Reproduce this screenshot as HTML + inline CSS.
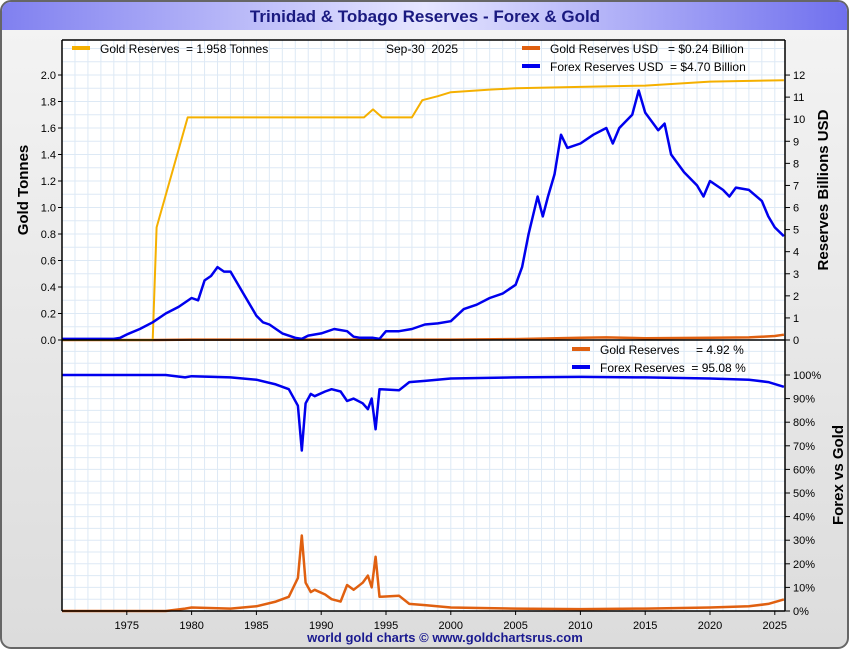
<!DOCTYPE html>
<html><head><meta charset="utf-8"><style>
body{margin:0;width:850px;height:650px;overflow:hidden;background:#fff;font-family:"Liberation Sans",sans-serif}
text{white-space:pre}
</style></head><body>
<svg id="c" width="850" height="650" xmlns="http://www.w3.org/2000/svg">
<defs>
<linearGradient id="bg" x1="0" y1="0" x2="0" y2="1"><stop offset="0" stop-color="#f4f4f4"/><stop offset="1" stop-color="#dcdcdc"/></linearGradient>
<linearGradient id="tb" x1="0" y1="0" x2="1" y2="0"><stop offset="0" stop-color="#8080f0"/><stop offset="0.5" stop-color="#e6e6ff"/><stop offset="1" stop-color="#7070ee"/></linearGradient>
</defs>
<rect x="1" y="1" width="847" height="647" rx="10" fill="url(#bg)" stroke="#666" stroke-width="2"/>
<path d="M2,30 L2,12 Q2,2 12,2 L838,2 Q847,2 847,12 L847,30 Z" fill="url(#tb)"/>
<text x="425" y="22" text-anchor="middle" font-size="17" font-weight="bold" fill="#1a1a80">Trinidad &amp; Tobago Reserves - Forex &amp; Gold</text>
<rect x="62" y="40" width="723" height="571" fill="#fff"/>
<g id="grid"></g>
<g id="marks"></g>
<g id="axes"></g>
<text transform="translate(28,190) rotate(-90)" text-anchor="middle" font-size="15" font-weight="bold" fill="#000">Gold Tonnes</text>
<text transform="translate(828,190) rotate(-90)" text-anchor="middle" font-size="15" font-weight="bold" fill="#000">Reserves Billions USD</text>
<text transform="translate(843,475) rotate(-90)" text-anchor="middle" font-size="15" font-weight="bold" fill="#000">Forex vs Gold</text>
<g font-size="12" fill="#000">
<rect x="72" y="46" width="18" height="4" fill="#f5b000"/>
<text x="100" y="53">Gold Reserves  = 1.958 Tonnes</text>
<text x="386" y="53">Sep-30  2025</text>
<rect x="522" y="46" width="18" height="4" fill="#e06010"/>
<text x="550" y="53">Gold Reserves USD   = $0.24 Billion</text>
<rect x="522" y="64" width="18" height="4" fill="#0000ee"/>
<text x="550" y="71">Forex Reserves USD  = $4.70 Billion</text>
<rect x="572" y="347" width="18" height="4" fill="#e06010"/>
<text x="600" y="354">Gold Reserves     = 4.92 %</text>
<rect x="572" y="365" width="18" height="4" fill="#0000ee"/>
<text x="600" y="372">Forex Reserves  = 95.08 %</text>
</g>
<text x="445" y="642" text-anchor="middle" font-size="13" font-weight="bold" fill="#1a1a90">world gold charts © www.goldchartsrus.com</text>
</svg>
<script>
const goldYears=[1970,1977.0,1977.3,1979.7,1993.3,1994.0,1994.7,1997.0,1997.8,1999,2000,2003,2005,2010,2015,2020,2025.7];
const goldTonnes=[0,0,0.85,1.68,1.68,1.74,1.68,1.68,1.81,1.84,1.87,1.89,1.90,1.91,1.92,1.95,1.96];
const forexYears=[1970,1974,1974.5,1975,1976,1977,1978,1979,1980,1980.5,1981,1981.5,1982,1982.5,1983,1984,1985,1985.5,1986,1987,1988,1988.5,1989,1990,1991,1992,1992.5,1993,1994,1994.5,1995,1996,1997,1998,1999,2000,2001,2002,2003,2004,2005,2005.5,2006,2006.7,2007.1,2007.5,2008,2008.5,2009,2010,2011,2012,2012.5,2013,2014,2014.5,2015,2016,2016.5,2017,2018,2019,2019.5,2020,2021,2021.5,2022,2023,2024,2024.5,2025,2025.7];
const forexUSD=[0.05,0.05,0.1,0.25,0.5,0.8,1.2,1.5,1.9,1.8,2.7,2.9,3.3,3.1,3.1,2.1,1.1,0.8,0.7,0.3,0.1,0.05,0.2,0.3,0.5,0.4,0.15,0.1,0.1,0.05,0.4,0.4,0.5,0.7,0.75,0.85,1.4,1.6,1.9,2.1,2.5,3.3,4.8,6.5,5.6,6.5,7.5,9.3,8.7,8.9,9.3,9.6,8.9,9.6,10.2,11.3,10.3,9.5,9.8,8.4,7.6,7.0,6.5,7.2,6.8,6.5,6.9,6.8,6.3,5.6,5.1,4.7];
const goldUSDYears=[1970,1977,1980,1985,1990,1995,2000,2005,2010,2012,2015,2020,2023,2025,2025.7];
const goldUSD=[0,0,0.02,0.02,0.02,0.02,0.02,0.04,0.1,0.12,0.08,0.1,0.12,0.18,0.24];
const pctYears=[1970,1978,1979.5,1980,1983,1985,1986.5,1987.5,1988.2,1988.5,1988.8,1989.2,1989.5,1990.3,1990.8,1991.5,1992,1992.5,1993.2,1993.6,1993.9,1994.2,1994.5,1996,1996.8,1998,2000,2005,2010,2015,2020,2023,2024.5,2025.7];
const forexPct=[100,100,99,99.5,99,98,96,94,87,68,88,92,91,93,94,93,89,90,88,85.5,90,77,94,93.5,97,97.5,98.5,99,99.2,99,98.5,98,97,95];
const goldPct=[0,0,1,1.5,1,2,4,6,14,32,12,8,9,7,5,4,11,9,12,15,10,23,6,6.5,3,2.5,1.5,1,0.8,1,1.5,2,3,4.9];
const xTicks=[1975,1980,1985,1990,1995,2000,2005,2010,2015,2020,2025];
const leftTicks=[0,0.2,0.4,0.6,0.8,1.0,1.2,1.4,1.6,1.8,2.0];
const rightTicks=[0,1,2,3,4,5,6,7,8,9,10,11,12];
const pctTicks=[0,10,20,30,40,50,60,70,80,90,100];

const NS="http://www.w3.org/2000/svg";
const L=62,R=785,T=40,MID=340,B=611;
const xs=y=>L+(y-1970)*12.96;
const yL=v=>MID-v*132.5;
const yR=v=>MID-v*22.08;
const yP=v=>B-v*2.36;
function mk(tag,at,parent){const e=document.createElementNS(NS,tag);for(const k in at)e.setAttribute(k,at[k]);document.getElementById(parent).appendChild(e);return e;}
for(let y=1971;y<=2025;y++){const g=mk('line',{x1:xs(y),x2:xs(y),y1:T,y2:B,stroke:'#dde9f5','stroke-width':1},'grid');

}
for(let v=0.1;v<2.3;v+=0.1){if(yL(v)<T)break;const g=mk('line',{x1:L,x2:R,y1:yL(v),y2:yL(v),stroke:'#dde9f5'},'grid');

}
for(let v=5;v<=110;v+=5){if(yP(v)<MID)break;const g=mk('line',{x1:L,x2:R,y1:yP(v),y2:yP(v),stroke:'#dde9f5'},'grid');

}
function line(xa,ya,fx,fy,col,w,name){const d=xa.map((x,i)=>(i?'L':'M')+fx(x).toFixed(1)+','+fy(ya[i]).toFixed(1)).join(' ');
const p=mk('path',{d:d,fill:'none',stroke:col,'stroke-width':w,'stroke-linejoin':'round'},'marks');

}
line(goldUSDYears,goldUSD,xs,yR,'#e06010',2.5,'gold-usd-line');
line(goldYears,goldTonnes,xs,yL,'#f5b000',2,'gold-tonnes-line');
line(forexYears,forexUSD,xs,yR,'#0000ee',2.5,'forex-usd-line');
line(pctYears,forexPct,xs,yP,'#0000ee',2.5,'forex-pct-line');
line(pctYears,goldPct,xs,yP,'#e06010',2.5,'gold-pct-line');
const ax=[[L,T,L,B],[R,T,R,B],[L,MID,R,MID],[L,B,R,B],[L,T,R,T]];
ax.forEach(a=>{const e=mk('line',{x1:a[0],y1:a[1],x2:a[2],y2:a[3],stroke:'#000','stroke-width':1.5},'axes');

});
function txt(x,y,s,anchor,name){const t=mk('text',{x:x,y:y,'font-size':11,'text-anchor':anchor,fill:'#000'},'axes');t.textContent=s;

}
xTicks.forEach(y=>{mk('line',{x1:xs(y),x2:xs(y),y1:B,y2:B+4,stroke:'#000'},'axes');txt(xs(y),B+18,String(y),'middle','x-tick-label');});
leftTicks.forEach(v=>{mk('line',{x1:L-4,x2:L,y1:yL(v),y2:yL(v),stroke:'#000'},'axes');txt(L-6,yL(v)+4,v.toFixed(1),'end','left-tick-label');});
rightTicks.forEach(v=>{mk('line',{x1:R,x2:R+5,y1:yR(v),y2:yR(v),stroke:'#000'},'axes');txt(R+8,yR(v)+4,String(v),'start','right-tick-label');});
pctTicks.forEach(v=>{mk('line',{x1:R,x2:R+5,y1:yP(v),y2:yP(v),stroke:'#000'},'axes');txt(R+8,yP(v)+4,v+'%','start','pct-tick-label');});
</script>
</body></html>
